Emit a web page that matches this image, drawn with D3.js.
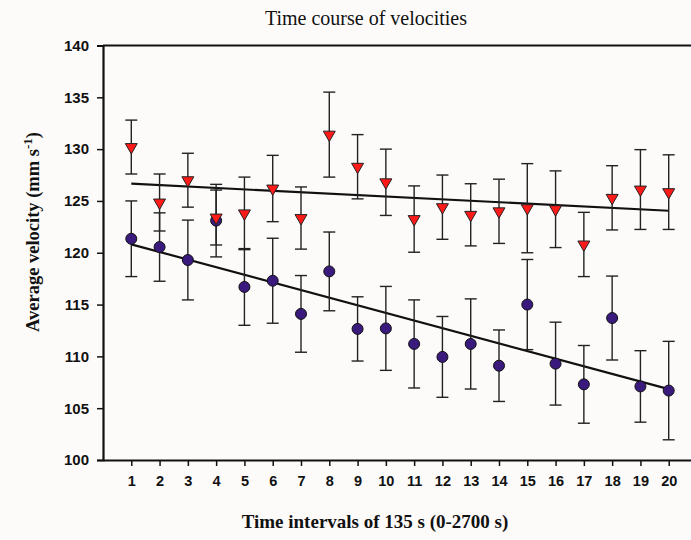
<!DOCTYPE html>
<html>
<head>
<meta charset="utf-8">
<script src="https://cdn.jsdelivr.net/npm/d3@7/dist/d3.min.js"></script>
<style>
  html, body { margin: 0; padding: 0; background: #fdfbfa; }
  svg { display: block; }
</style>
</head>
<body>
<script>
const intervals = d3.range(1, 21);
const redMean = [130.2, 124.85, 127.0, 123.4, 123.8, 126.2, 123.35, 131.4, 128.3, 126.8, 123.25, 124.4, 123.66, 124.0, 124.3, 124.2, 120.8, 125.3, 126.1, 125.85];
const redErr  = [2.6, 2.75, 2.6, 2.65, 3.5, 3.2, 3.0, 4.1, 3.1, 3.2, 3.2, 3.1, 3.0, 3.1, 4.3, 3.7, 3.1, 3.1, 3.85, 3.6];
const blueMean = [121.35, 120.55, 119.3, 123.1, 116.7, 117.3, 114.1, 118.2, 112.65, 112.7, 111.2, 109.95, 111.2, 109.1, 115.0, 109.3, 107.3, 113.7, 107.1, 106.7];
const blueErr  = [3.65, 3.3, 3.85, 3.5, 3.7, 4.1, 3.7, 3.8, 3.1, 4.05, 4.25, 3.9, 4.35, 3.45, 4.35, 4.0, 3.75, 4.05, 3.45, 4.75];
const yTicks = [100, 105, 110, 115, 120, 125, 130, 135, 140];

const W = 691, H = 540;
const svg = d3.select("body").append("svg").attr("width", W).attr("height", H);
svg.append("rect").attr("width", W).attr("height", H).attr("fill", "#fdfbfa");

const x = d3.scaleLinear().domain([0, 21]).range([103, 697]);
const y = d3.scaleLinear().domain([100, 140]).range([460, 45.5]);

const serif = "'Liberation Serif', 'DejaVu Serif', serif";
const sans = "'Liberation Sans', Arial, sans-serif";

// Title
svg.append("text").attr("x", 366).attr("y", 25).attr("text-anchor", "middle")
  .attr("font-family", serif).attr("font-size", 20)
  .attr("fill", "#111").text("Time course of velocities");

// frame top
svg.append("line").attr("x1", x(0)).attr("x2", x(21)).attr("y1", y(140)).attr("y2", y(140))
  .attr("stroke", "#111").attr("stroke-width", 2.2);

// Y axis
const yAxis = svg.append("g").attr("transform", `translate(${x(0)},0)`)
  .call(d3.axisLeft(y).tickValues(yTicks).tickSize(6).tickPadding(8));
yAxis.select(".domain").attr("stroke", "#111").attr("stroke-width", 2.2);
yAxis.selectAll(".tick line").attr("stroke", "#111").attr("stroke-width", 1.5);
yAxis.selectAll(".tick text").attr("font-family", sans)
  .attr("font-weight", "bold").attr("font-size", 15).attr("fill", "#111");

// X axis
const xAxis = svg.append("g").attr("transform", `translate(0,${y(100)})`)
  .call(d3.axisBottom(x).tickValues(intervals).tickSize(6).tickPadding(10).tickSizeOuter(0));
xAxis.select(".domain").attr("stroke", "#111").attr("stroke-width", 2.2);
xAxis.selectAll(".tick line").attr("stroke", "#111").attr("stroke-width", 1.5);
xAxis.selectAll(".tick text").attr("font-family", sans)
  .attr("font-weight", "bold").attr("font-size", 14.5).attr("fill", "#111");

// Axis titles
svg.append("text").attr("x", 375).attr("y", 528).attr("text-anchor", "middle")
  .attr("font-family", serif).attr("font-size", 19)
  .attr("font-weight", "bold").attr("fill", "#111").text("Time intervals of 135 s (0-2700 s)");

const yt = svg.append("text").attr("transform", "translate(39,232) rotate(-90)")
  .attr("text-anchor", "middle")
  .attr("font-family", serif).attr("font-size", 18.5)
  .attr("font-weight", "bold").attr("fill", "#111");
yt.append("tspan").text("Average velocity (mm s");
yt.append("tspan").attr("dy", -7).attr("font-size", 13).text("-1");
yt.append("tspan").attr("dy", 7).text(")");

// Regression lines (least squares)
function fit(xs, ys) {
  const mx = d3.mean(xs), my = d3.mean(ys);
  let sxy = 0, sxx = 0;
  xs.forEach((v, i) => { sxy += (v - mx) * (ys[i] - my); sxx += (v - mx) ** 2; });
  const b = sxy / sxx, a = my - b * mx;
  return [[xs[0], a + b * xs[0]], [xs[xs.length - 1], a + b * xs[xs.length - 1]]];
}
const line = d3.line().x(d => x(d[0])).y(d => y(d[1]));
[fit(intervals, redMean), fit(intervals, blueMean)].forEach(pts => {
  svg.append("path").attr("d", line(pts)).attr("fill", "none")
    .attr("stroke", "#111").attr("stroke-width", 2.2);
});

// Error bars
function errorBars(means, errs) {
  const g = svg.append("g").attr("stroke", "#222").attr("stroke-width", 1.4);
  intervals.forEach((t, i) => {
    const cx = x(t), top = y(means[i] + errs[i]), bot = y(means[i] - errs[i]);
    g.append("line").attr("x1", cx).attr("x2", cx).attr("y1", top).attr("y2", bot);
    g.append("line").attr("x1", cx - 6).attr("x2", cx + 6).attr("y1", top).attr("y2", top);
    g.append("line").attr("x1", cx - 6).attr("x2", cx + 6).attr("y1", bot).attr("y2", bot);
  });
}
errorBars(blueMean, blueErr);
errorBars(redMean, redErr);

// Blue circles
svg.append("g").selectAll("circle").data(intervals).join("circle")
  .attr("cx", d => x(d)).attr("cy", (d, i) => y(blueMean[i])).attr("r", 5.5)
  .attr("fill", "#3a1a7c").attr("stroke", "#111").attr("stroke-width", 1);

// Red down triangles
const tri = d3.symbol().type(d3.symbolTriangle).size(62);
svg.append("g").selectAll("path").data(intervals).join("path")
  .attr("d", tri)
  .attr("transform", (d, i) => `translate(${x(d)},${y(redMean[i])}) rotate(180)`)
  .attr("fill", "#ff1a1a").attr("stroke", "#222").attr("stroke-width", 1);
</script>
</body>
</html>
